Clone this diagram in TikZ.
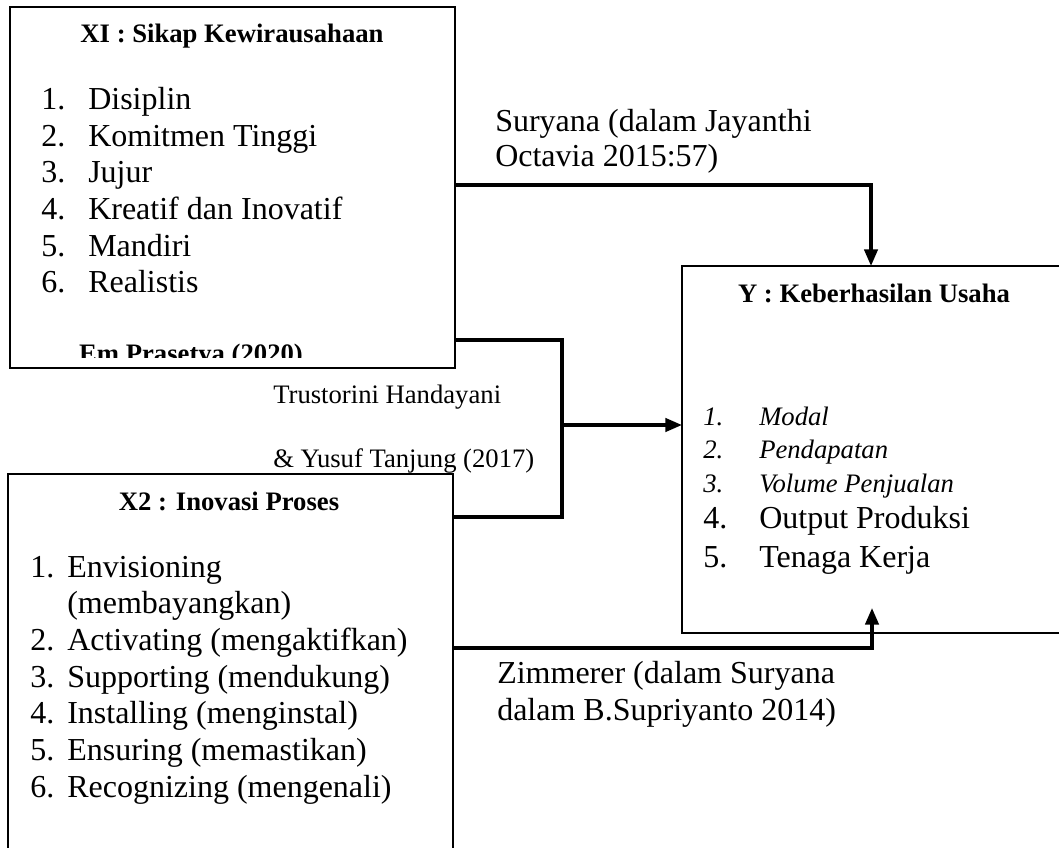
\documentclass[tikz,border=0pt]{standalone}
\usepackage{fontspec}
\setmainfont{Liberation Serif}
\usetikzlibrary{arrows.meta}
\begin{document}
\begin{tikzpicture}[x=0.75pt,y=-0.75pt,
  box/.style={draw, line width=2pt, rectangle, inner sep=0pt, outer sep=0pt, anchor=north west},
  conn/.style={line width=2.5pt},
  arr/.style={line width=2.5pt, -{Triangle[length=12.5pt,width=10pt]}},
  txt/.style={inner sep=0pt, anchor=base west, font=\fontsize{24}{28}\selectfont},
  small/.style={inner sep=0pt, anchor=base west, font=\fontsize{20}{24}\selectfont},
  ital/.style={inner sep=0pt, anchor=base west, font=\fontsize{20}{24}\selectfont\itshape},
  ttl/.style={inner sep=0pt, anchor=base, font=\fontsize{20}{24}\selectfont\bfseries}]
\useasboundingbox (0,0) rectangle (1059,848);
\clip (0,0) rectangle (1059,848);
\fill[white] (0,0) rectangle (1059,848);

% boxes
\node[box, minimum width=333.75pt, minimum height=270.75pt] (x1) at (10,7) {};
\node[box, minimum width=333.75pt, minimum height=315pt] (x2) at (8,474) {};
\node[box, minimum width=300pt, minimum height=275.25pt] (y) at (682,266) {};

% X1 contents
\node[ttl] (x1t) at (232,43) {XI : Sikap Kewirausahaan};
\foreach \n/\t/\yy in {1/Disiplin/110, 2/Komitmen Tinggi/147, 3/Jujur/183, 4/Kreatif dan Inovatif/220, 5/Mandiri/257, 6/Realistis/293}{
  \node[txt] (x1n\n) at (41,\yy) {\n.};
  \node[txt] (x1i\n) at (88,\yy) {\t};
}
\begin{scope}
  \clip (10,7) rectangle (455,357);
  \node[ttl] (x1s) at (191,362.5) {Em Prasetya (2020)};
\end{scope}

% X2 contents
\node[ttl] (x2t) at (229,510) {X2 : Inovasi Proses};
\node[txt] (x2n1) at (30,577) {1.};
\node[txt] (x2i1) at (67,577) {Envisioning};
\node[txt] (x2i1b) at (67,613) {(membayangkan)};
\foreach \n/\t/\yy in {2/Activating (mengaktifkan)/650, 3/Supporting (mendukung)/687, 4/Installing (menginstal)/723, 5/Ensuring (memastikan)/760, 6/Recognizing (mengenali)/797}{
  \node[txt] (x2n\n) at (30,\yy) {\n.};
  \node[txt] (x2i\n) at (67,\yy) {\t};
}

% Y contents
\node[ttl] (yt) at (874,303) {Y : Keberhasilan Usaha};
\foreach \n/\t/\yy in {1/Modal/425, 2/Pendapatan/458, 3/Volume Penjualan/492}{
  \node[ital] (yn\n) at (703,\yy) {\n.};
  \node[ital] (yi\n) at (759,\yy) {\t};
}
\foreach \n/\t/\yy in {4/Output Produksi/528, 5/Tenaga Kerja/567}{
  \node[txt] (yn\n) at (703,\yy) {\n.};
  \node[txt] (yi\n) at (759,\yy) {\t};
}

% labels
\node[txt] (l1a) at (495,132) {Suryana (dalam Jayanthi};
\node[txt] (l1b) at (495,167) {Octavia 2015:57)};
\node[small] (l2a) at (273,403) {Trustorini Handayani};
\node[small] (l2b) at (273,467) {\& Yusuf Tanjung (2017)};
\node[txt] (l3a) at (497,683) {Zimmerer (dalam Suryana};
\node[txt] (l3b) at (497,720) {dalam B.Supriyanto 2014)};

% connectors
\coordinate (k1) at (871,185);
\draw[arr] (x1.east |- k1) -- (k1) -- (k1 |- y.north);

\coordinate (j1) at (562,340);
\coordinate (j2) at (562,517);
\coordinate (jm) at (562,425);
\draw[conn] (x1.east |- j1) -- (j1) -- (j2) -- (x2.east |- j2);
\draw[arr] (jm) -- (y.west |- jm);

\coordinate (k3) at (872,648);
\coordinate (k3t) at (872,608);
\draw[arr] (x2.east |- k3) -- (k3) -- (k3t);
\end{tikzpicture}
\end{document}
